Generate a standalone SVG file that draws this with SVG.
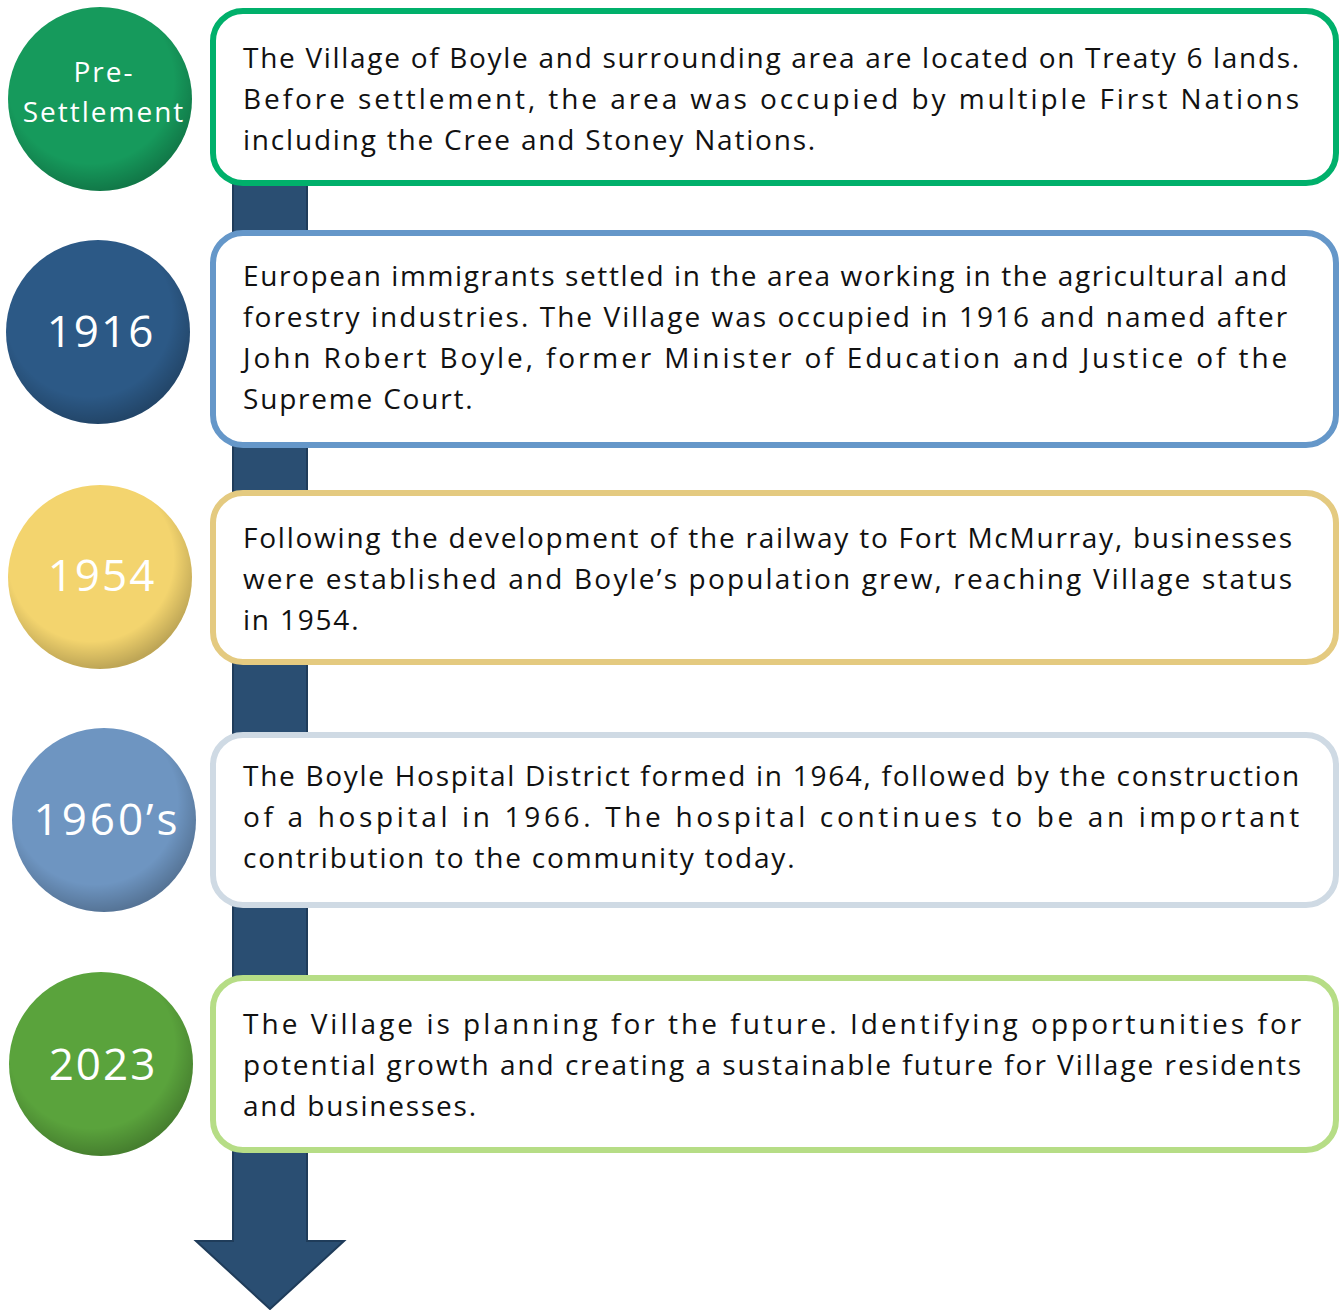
<svg xmlns="http://www.w3.org/2000/svg" width="1339" height="1310" viewBox="0 0 1339 1310">
<style>
.box{fill:#fff;stroke-width:6}
.t{font-family:"Open Sans","Liberation Sans",sans-serif;font-size:28px;fill:#111;letter-spacing:1.8px}
.c{font-family:"Open Sans","Liberation Sans",sans-serif;fill:#fff;text-anchor:middle;letter-spacing:2px}
</style>
<defs>
<radialGradient id="shade" cx="0.45" cy="0.4" r="0.6">
<stop offset="0.75" stop-color="#000" stop-opacity="0"/>
<stop offset="1" stop-color="#000" stop-opacity="0.22"/>
</radialGradient>
</defs>
<rect width="1339" height="1310" fill="#fff"/>
<g id="connectors">
<path d="M233,180 H307 V1241 H344 L270,1309 L196,1241 H233 Z" fill="#2a4e72" stroke="#1f3c5a" stroke-width="2"/>
</g>
<g id="node-presettlement">
<circle cx="100" cy="99" r="92" fill="#169a5c"/>
<circle cx="100" cy="99" r="92" fill="url(#shade)"/>
<text class="c" x="104" y="82" font-size="28">Pre-</text>
<text class="c" x="104" y="122" font-size="28">Settlement</text>
<rect class="box" x="213" y="11" width="1123" height="172" rx="30" stroke="#00b06b"/>
<text class="t" x="243" y="68" textLength="1058" lengthAdjust="spacing">The Village of Boyle and surrounding area are located on Treaty 6 lands.</text>
<text class="t" x="243" y="109" textLength="1058" lengthAdjust="spacing">Before settlement, the area was occupied by multiple First Nations</text>
<text class="t" x="243" y="150">including the Cree and Stoney Nations.</text>
</g>
<g id="node-1916">
<circle cx="98" cy="332" r="92" fill="#2c5986"/>
<circle cx="98" cy="332" r="92" fill="url(#shade)"/>
<text class="c" x="101" y="347" font-size="44">1916</text>
<rect class="box" x="213" y="233" width="1123" height="212" rx="30" stroke="#6597c9"/>
<text class="t" x="243" y="286" textLength="1046" lengthAdjust="spacing">European immigrants settled in the area working in the agricultural and</text>
<text class="t" x="243" y="327" textLength="1046" lengthAdjust="spacing">forestry industries. The Village was occupied in 1916 and named after</text>
<text class="t" x="243" y="368" textLength="1046" lengthAdjust="spacing">John Robert Boyle, former Minister of Education and Justice of the</text>
<text class="t" x="243" y="409">Supreme Court.</text>
</g>
<g id="node-1954">
<circle cx="100" cy="577" r="92" fill="#f3d46e"/>
<circle cx="100" cy="577" r="92" fill="url(#shade)"/>
<text class="c" x="102" y="591" font-size="44">1954</text>
<rect class="box" x="213" y="493" width="1123" height="169" rx="30" stroke="#e4ca80"/>
<text class="t" x="243" y="548" textLength="1051" lengthAdjust="spacing">Following the development of the railway to Fort McMurray, businesses</text>
<text class="t" x="243" y="589" textLength="1051" lengthAdjust="spacing">were established and Boyle’s population grew, reaching Village status</text>
<text class="t" x="243" y="630">in 1954.</text>
</g>
<g id="node-1960s">
<circle cx="104" cy="820" r="92" fill="#6e95c1"/>
<circle cx="104" cy="820" r="92" fill="url(#shade)"/>
<text class="c" x="107" y="835" font-size="44" style="letter-spacing:3px">1960’s</text>
<rect class="box" x="213" y="735" width="1123" height="170" rx="30" stroke="#cfdae4"/>
<text class="t" x="243" y="786" textLength="1058" lengthAdjust="spacing">The Boyle Hospital District formed in 1964, followed by the construction</text>
<text class="t" x="243" y="827" textLength="1058" lengthAdjust="spacing">of a hospital in 1966. The hospital continues to be an important</text>
<text class="t" x="243" y="868">contribution to the community today.</text>
</g>
<g id="node-2023">
<circle cx="101" cy="1064" r="92" fill="#5aa33c"/>
<circle cx="101" cy="1064" r="92" fill="url(#shade)"/>
<text class="c" x="103" y="1080" font-size="44">2023</text>
<rect class="box" x="213" y="978" width="1123" height="172" rx="30" stroke="#b6dd86"/>
<text class="t" x="243" y="1034" textLength="1060" lengthAdjust="spacing">The Village is planning for the future. Identifying opportunities for</text>
<text class="t" x="243" y="1075" textLength="1060" lengthAdjust="spacing">potential growth and creating a sustainable future for Village residents</text>
<text class="t" x="243" y="1116">and businesses.</text>
</g>
</svg>
